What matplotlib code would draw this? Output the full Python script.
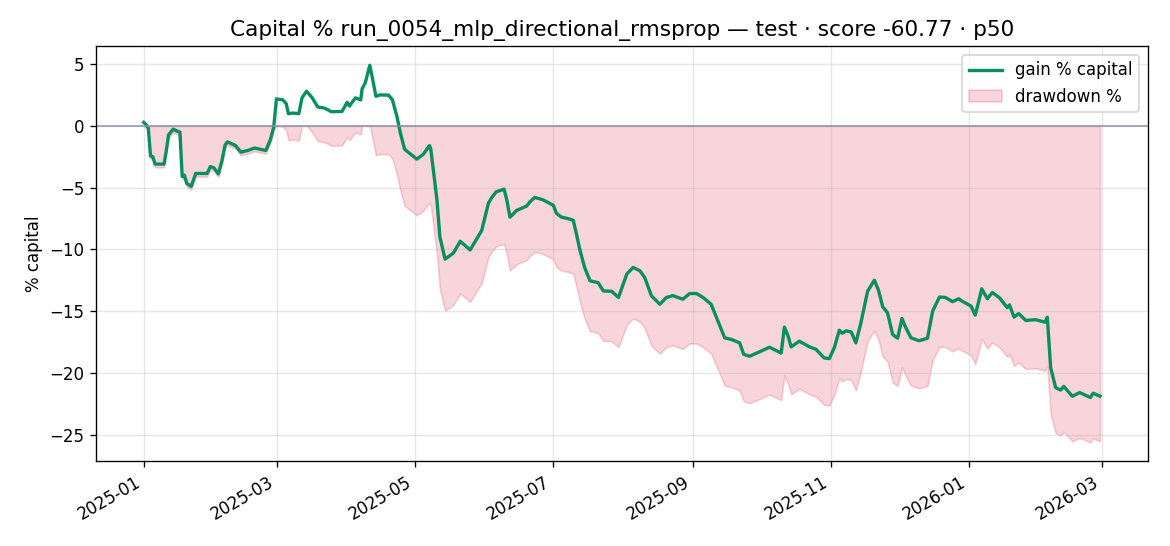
import numpy as np
import pandas as pd
from matplotlib import pyplot as plt

# day offset from 2025-01-01, gain % capital
days = [0, 1, 2, 3, 4, 5, 9, 10, 11, 13, 15, 16, 17, 18, 19, 21, 23, 28, 29.5, 31, 33, 34.5,
        36, 37, 40.6, 43, 46, 49, 54, 56, 57.5, 58.7, 61.5, 63, 64, 66, 68.6, 70, 72, 74.5,
        77, 80, 83, 87.7, 90, 91, 93.6, 96, 96.6, 98, 100, 101, 102.7, 104.5, 108.3, 110,
        112, 113.5, 115.4, 120.8, 123.7, 126.4, 127, 129.7, 131, 133.3, 137, 140, 144.4,
        147.3, 149.5, 152.5, 154, 155.9, 159.4, 160.6, 162, 165, 169.4, 170.8, 173, 176.7,
        181.2, 182.6, 184.8, 187.8, 190, 191.4, 193, 195, 197.4, 201, 203.3, 207, 210,
        213.7, 216.5, 219.5, 221.6, 224.6, 228.3, 231.2, 234, 238.5, 241.5, 244.5, 247.4,
        251, 254, 257, 260, 263.6, 265.4, 268, 272.4, 276.8, 280.5, 282, 283.4, 285,
        286.4, 290, 294.5, 297.4, 301, 303.3, 305.5, 307.7, 309, 310.7, 313, 315, 317.2,
        320.2, 323.2, 325, 326.9, 329, 331.3, 333.5, 335.4, 337, 339.4, 343, 346.7, 349,
        352, 354.6, 357.8, 360.5, 362, 366, 367.8, 369, 370.7, 373.2, 375.4, 378.4, 382,
        383, 385, 387, 390.2, 394.6, 398.7, 399.7, 401.2, 403.4, 405.6, 407, 410.8, 414,
        418.8, 420, 423]
gain = [0.27, 0.1, -0.19, -2.45, -2.5, -3.1, -3.1, -1.96, -0.73, -0.27, -0.45, -0.5, -4.1,
        -4.0, -4.67, -4.9, -3.86, -3.86, -3.3, -3.4, -3.9, -2.9,
        -1.55, -1.3, -1.6, -2.14, -2.0, -1.8, -2.0, -1.14, -0.1, 2.18, 2.1, 1.8, 0.98, 1.03,
        0.98, 2.26, 2.8, 2.27, 1.52, 1.43, 1.14, 1.16, 1.9, 1.6, 2.26, 2.1, 3.0, 3.48, 4.9,
        4.0, 2.39, 2.5, 2.48, 2.1, 0.76, -0.57, -1.9, -2.7, -2.3, -1.6, -1.9, -6.0, -9.0,
        -10.8, -10.3, -9.35, -10.05, -9.16, -8.48, -6.25, -5.8, -5.35, -5.13, -6.0, -7.4,
        -6.85, -6.5, -6.16, -5.8, -6.0, -6.44, -7.1, -7.4, -7.52, -7.65, -8.75, -10.1,
        -11.45, -12.55, -12.7, -13.37, -13.4, -13.9, -12.0, -11.47, -11.74, -12.28, -13.77,
        -14.45, -13.9, -13.75, -14.04, -13.58, -13.58, -13.9, -14.45, -15.8, -17.17, -17.3,
        -17.57, -18.5, -18.66, -18.3, -17.93, -18.26, -18.4, -16.3, -17.0, -17.9, -17.44,
        -17.9, -18.1, -18.8, -18.85, -17.95, -16.55, -16.8, -16.6, -16.7, -17.57, -16.0,
        -13.4, -12.5, -13.3, -14.66, -15.13, -16.9, -17.2, -15.6, -16.3, -17.17, -17.4,
        -17.2, -15.0, -13.86, -13.9, -14.24, -14.0, -14.2, -14.6, -15.33, -14.5, -13.2,
        -14.0, -13.5, -13.9, -14.72, -14.5, -15.5, -15.2, -15.76, -15.7, -15.9, -15.5,
        -19.6, -21.2, -21.4, -21.1, -21.9, -21.6, -22.0, -21.65, -21.9]

dates = pd.Timestamp('2025-01-01') + pd.to_timedelta(days, unit='D')
gain = np.array(gain)

# drawdown relative to running peak of capital
equity = 1 + gain / 100
peak = np.maximum.accumulate(np.maximum(equity, 1.0))
drawdown = (equity / peak - 1) * 100

fig, ax = plt.subplots(figsize=(9.75, 4.55), dpi=120)
ax.fill_between(dates, drawdown, 0, color='crimson', alpha=0.18, label='drawdown %')
ax.plot(dates, gain, color='#078f5f', lw=2, label='gain % capital')
ax.axhline(0, color='#8892a6', lw=0.9)
ax.set_title('Capital % run_0054_mlp_directional_rmsprop — test · score -60.77 · p50', fontsize=13)
ax.set_ylabel('% capital')
ax.grid(True, alpha=0.3)
handles, labels = ax.get_legend_handles_labels()
ax.legend(handles[::-1], labels[::-1], loc='upper right')
fig.autofmt_xdate()
fig.subplots_adjust(left=0.082, right=0.981, top=0.915, bottom=0.155)
fig.savefig('out.png')
